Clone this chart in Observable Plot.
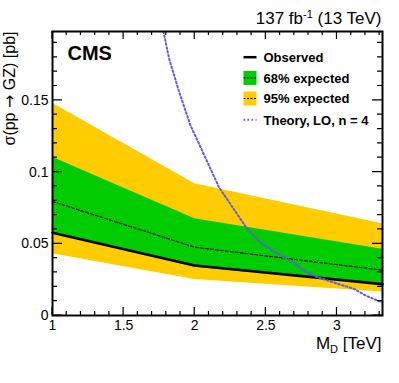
<!DOCTYPE html>
<html>
<head>
<meta charset="utf-8">
<script src="https://cdn.jsdelivr.net/npm/d3@7"></script>
<script src="https://cdn.jsdelivr.net/npm/@observablehq/plot@0.6"></script>
<style>
  html, body { margin: 0; padding: 0; background: #fff; }
  #chart svg { display: block; }
</style>
</head>
<body>
<div id="chart"></div>
<script>
// ---- data ----
const mass = [1, 2, 3.32];
const observed = [0.0577, 0.0349, 0.0219];
const expected = [0.0795, 0.0476, 0.0316];
const exp68Lo = [0.0572, 0.0337, 0.0214];
const exp68Hi = [0.1104, 0.0674, 0.0462];
const exp95Lo = [0.0430, 0.0251, 0.0163];
const exp95Hi = [0.1480, 0.0918, 0.0640];

const theoryMass  = [1.78, 1.82, 1.89, 1.97, 2.03, 2.17, 2.36, 2.46, 2.55, 2.67, 2.76, 2.85, 3.00, 3.12, 3.21, 3.30, 3.32];
const theorySigma = [0.198, 0.179, 0.156, 0.1325, 0.1197, 0.0895, 0.0616, 0.051, 0.045, 0.0384, 0.0318, 0.0272, 0.0222, 0.0186, 0.0135, 0.0098, 0.0092];

const xTicks = [1, 1.5, 2, 2.5, 3];
const yTicks = [0, 0.05, 0.1, 0.15];
const xMinor = [1.1, 1.2, 1.3, 1.4, 1.6, 1.7, 1.8, 1.9, 2.1, 2.2, 2.3, 2.4, 2.6, 2.7, 2.8, 2.9, 3.1, 3.2, 3.3];
const yMinor = [0.01, 0.02, 0.03, 0.04, 0.06, 0.07, 0.08, 0.09, 0.11, 0.12, 0.13, 0.14, 0.16, 0.17, 0.18, 0.19];

const legendLabels = ["Observed", "68% expected", "95% expected", "Theory, LO, n = 4"];
const titleText = "137 fb-1 (13 TeV)";
const xLabel = "MD [TeV]";
const yLabel = "σ(pp → GZ) [pb]";
const expLabel = "CMS";

const bands = mass.map((m, i) => ({m, obs: observed[i], exp: expected[i], lo68: exp68Lo[i], hi68: exp68Hi[i], lo95: exp95Lo[i], hi95: exp95Hi[i]}));
const theory = theoryMass.map((m, i) => ({m, s: theorySigma[i]}));

const W = 399, H = 383, ML = 52, MR = 17, MT = 31, MB = 68;

const GREEN = "#00cc00", YELLOW = "#ffcc00", BLUE = "#5c5ce6";
const lineSym = {draw(ctx) { ctx.moveTo(-6.5, 0); ctx.lineTo(6.5, 0); }};
const boxSym = {draw(ctx) { ctx.rect(-6.5, -7, 13, 14); }};

const legendY = [25.7, 46.4, 67, 88.3];
const T = {lineAnchor: "middle"};

const chart = Plot.plot({
  width: W, height: H,
  marginLeft: ML, marginRight: MR, marginTop: MT, marginBottom: MB,
  style: {fontFamily: "'Liberation Sans', Arial, Helvetica, sans-serif", background: "#fff", color: "black"},
  x: {domain: [1, 3.32], axis: null},
  y: {domain: [0, 0.198], axis: null},
  marks: [
    Plot.areaY(bands, {x: "m", y1: "lo95", y2: "hi95", fill: YELLOW}),
    Plot.areaY(bands, {x: "m", y1: "lo68", y2: "hi68", fill: GREEN}),
    Plot.line(bands, {x: "m", y: "exp", stroke: "black", strokeWidth: 1.1, strokeDasharray: "3,2"}),
    Plot.line(bands, {x: "m", y: "obs", stroke: "black", strokeWidth: 2.6}),
    Plot.line(theory, {x: "m", y: "s", stroke: BLUE, strokeWidth: 2, strokeDasharray: "1.6,2.4", clip: true}),
    // tick labels
    Plot.text(xTicks, {x: d => d, text: d => String(d), frameAnchor: "bottom", lineAnchor: "top", dy: 5, fontSize: 14}),
    Plot.text(yTicks, {y: d => d, text: d => String(d), frameAnchor: "left", textAnchor: "end", lineAnchor: "middle", dx: -4, fontSize: 14}),
    // texts
    Plot.text([expLabel], {...T, frameAnchor: "top-left", textAnchor: "start", dx: 15, dy: 21.6, fontSize: 20, fontWeight: "bold"}),
    Plot.text([titleText], {...T, frameAnchor: "top-right", textAnchor: "end", dx: -1, dy: -12.6, fontSize: 17, className: "ttl"}),
    Plot.text([xLabel], {...T, frameAnchor: "bottom-right", textAnchor: "end", dx: -1, dy: 28.5, fontSize: 17, className: "xlab"}),
    Plot.text([yLabel], {...T, frameAnchor: "top-left", textAnchor: "end", rotate: -90, dx: -43, dy: 0, fontSize: 16, className: "ylab"}),
    // legend
    Plot.dot([0], {frameAnchor: "top-left", dx: 197.5, dy: legendY[0], symbol: lineSym, stroke: "black", strokeWidth: 2.5, fill: "none"}),
    Plot.dot([0], {frameAnchor: "top-left", dx: 197.5, dy: legendY[1], symbol: boxSym, fill: GREEN, stroke: "none"}),
    Plot.dot([0], {frameAnchor: "top-left", dx: 197.5, dy: legendY[1], symbol: lineSym, stroke: "black", strokeWidth: 1, strokeDasharray: "2,1.5", fill: "none"}),
    Plot.dot([0], {frameAnchor: "top-left", dx: 197.5, dy: legendY[2], symbol: boxSym, fill: YELLOW, stroke: "none"}),
    Plot.dot([0], {frameAnchor: "top-left", dx: 197.5, dy: legendY[2], symbol: lineSym, stroke: "black", strokeWidth: 1, strokeDasharray: "2,1.5", fill: "none"}),
    Plot.dot([0], {frameAnchor: "top-left", dx: 197.5, dy: legendY[3], symbol: lineSym, stroke: BLUE, strokeWidth: 2, strokeDasharray: "1.6,2.4", fill: "none"}),
    ...legendLabels.map((t, i) => Plot.text([t], {...T, frameAnchor: "top-left", textAnchor: "start", dx: 211, dy: legendY[i] + 0.8, fontSize: 13, fontWeight: "bold"})),
    Plot.frame({stroke: "black", strokeWidth: 2})
  ]
});

document.getElementById("chart").appendChild(chart);

const svg = d3.select(chart);

// inward ticks on all four sides, positioned through Plot's own scales
const sx = chart.scale("x"), sy = chart.scale("y");
const [x0, x1] = sx.range, [y0, y1] = sy.range; // y0 = bottom, y1 = top
let p = "";
const addX = (vals, len) => vals.forEach(v => {
  const X = sx.apply(v);
  p += `M${X},${y0}v${-len}M${X},${y1}v${len}`;
});
const addY = (vals, len) => vals.forEach(v => {
  const Y = sy.apply(v);
  p += `M${x0},${Y}h${len}M${x1},${Y}h${-len}`;
});
addX(xMinor, 4); addX(xTicks, 8);
addY(yMinor, 5); addY(yTicks, 10);
svg.append("path").attr("class", "frame-ticks").attr("d", p)
  .attr("fill", "none").attr("stroke", "#000").attr("stroke-width", 1.2);

// subscripts / superscripts / arrow glyph
const xl = svg.select("g.xlab text");
if (!xl.empty()) {
  xl.text(null);
  xl.append("tspan").text("M");
  xl.append("tspan").attr("font-size", 11).attr("dy", 4).text("D");
  xl.append("tspan").attr("dy", -4).text(" [TeV]");
}
const tl = svg.select("g.ttl text");
if (!tl.empty()) {
  tl.text(null);
  tl.append("tspan").text("137 fb");
  tl.append("tspan").attr("font-size", 11).attr("dy", -6).text("-1");
  tl.append("tspan").attr("dy", 6).text(" (13 TeV)");
}
const yl = svg.select("g.ylab text");
if (!yl.empty()) {
  const parts = yLabel.split("→");
  yl.text(null);
  yl.append("tspan").text(parts[0]);
  yl.append("tspan").attr("font-family", "'DejaVu Sans', sans-serif").text("→");
  yl.append("tspan").text(parts[1]);
}
</script>
</body>
</html>
